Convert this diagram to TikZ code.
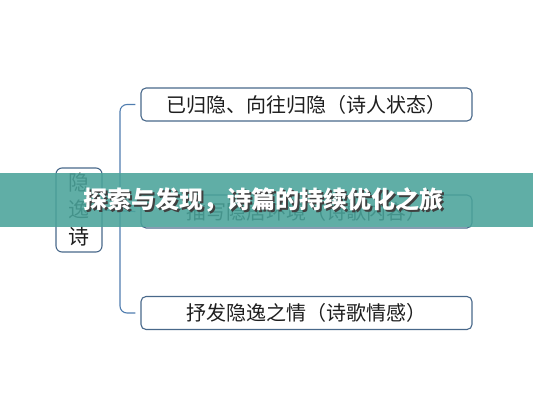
\documentclass[tikz,border=0pt]{standalone}
\usepackage{fontspec}
\setmainfont{Noto Sans CJK SC}
\definecolor{boxline}{RGB}{72,104,138}
\definecolor{brline}{RGB}{80,125,175}
\definecolor{banner}{RGB}{74,163,154}
\definecolor{ink}{RGB}{30,30,30}

\begin{document}
\begin{tikzpicture}[x=1pt,y=-1pt]
	\tikzstyle{topic} = [rectangle,draw=boxline,line width=1.1pt,rounded corners=5pt,minimum width=331pt,minimum height=33pt,text=ink,font=\fontsize{20}{22}\selectfont]
	\tikzstyle{root} = [rectangle,draw=boxline,line width=1.1pt,rounded corners=6pt,minimum width=46pt,minimum height=84pt,text=ink,align=center,font=\fontsize{21}{27}\selectfont]
	\tikzstyle{bracket} = [draw=brline,line width=1.1pt,rounded corners=7pt]
	\tikzstyle{headline} = [font=\fontsize{24}{26}\selectfont\bfseries]
	
	\useasboundingbox (0,0) rectangle (533,400);
	
	\node[root](c) at (79,210){隐\\逸\\诗};
	
	\node[topic](t-1) at (306.5,104.5){已归隐、向往归隐（诗人状态）};
	\node[topic](t-2) at (306.5,211.5){描写隐居环境（诗歌内容）};
	\node[topic](t-3) at (306.5,313){抒发隐逸之情（诗歌情感）};
	
	\coordinate (j) at (120,211);
	\foreach \i in {1,2,3}{
		\coordinate (k-\i) at ([xshift=-5pt]t-\i.west);
	};
	
	\draw[bracket] (k-1) -| (j) |- (k-3);
	\draw[bracket] (c.east) -- (k-2);
	
	\fill[banner,opacity=0.88] (0,173) rectangle (533,227);
	\node[headline,text=black!75](s) at (265,201.5) {探索与发现，诗篇的持续优化之旅};
	\node[headline,text=white](title) at (263.5,200) {探索与发现，诗篇的持续优化之旅};
\end{tikzpicture}
\end{document}
